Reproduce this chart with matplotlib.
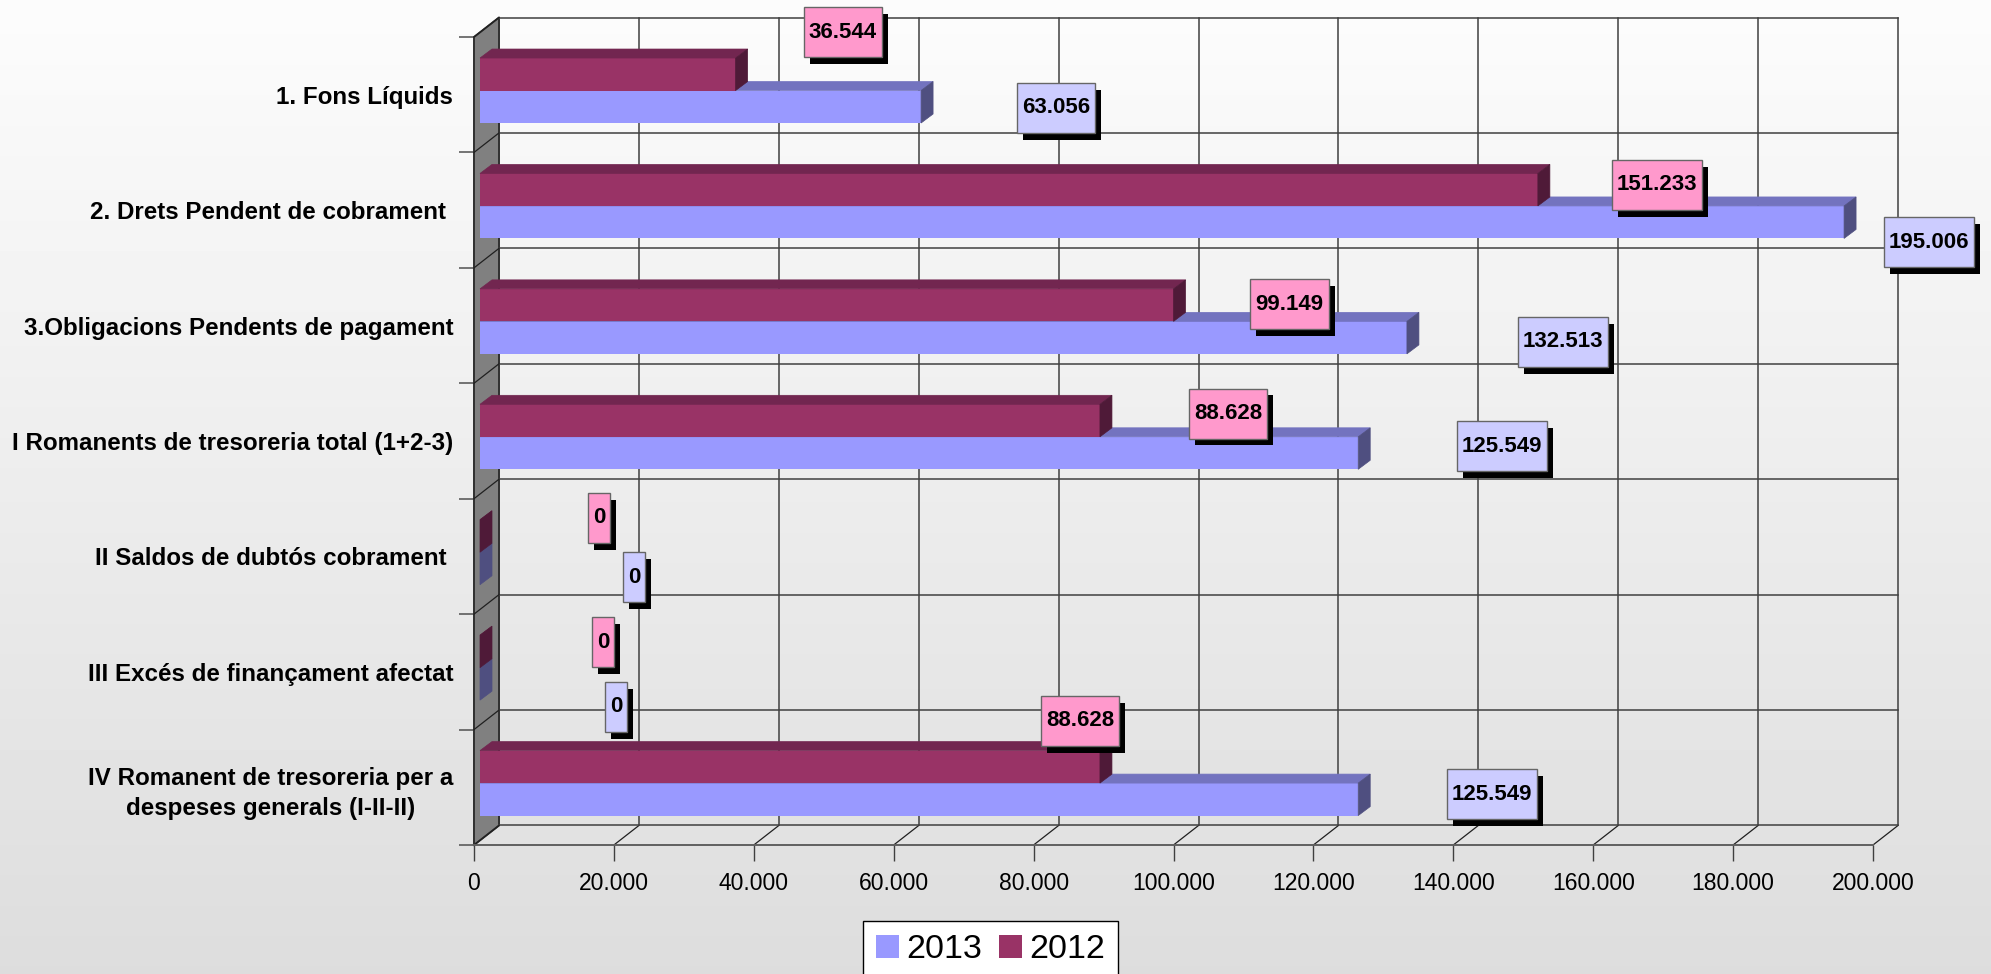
import numpy as np
import matplotlib
matplotlib.use('Agg')
import matplotlib.pyplot as plt
import matplotlib.patheffects as pe
from matplotlib.path import Path
from matplotlib.ticker import FuncFormatter

plt.rcParams['font.family'] = ['Liberation Sans', 'DejaVu Sans']

# Data
categories = ['1. Fons Líquids', '2. Drets Pendent de cobrament ',
              '3.Obligacions Pendents de pagament', 'I Romanents de tresoreria total (1+2-3)',
              'II Saldos de dubtós cobrament ', 'III Excés de finançament afectat',
              'IV Romanent de tresoreria per a\ndespeses generals (I-II-II)']
values_2013 = [63056, 195006, 132513, 125549, 0, 0, 125549]
values_2012 = [36544, 151233, 99149, 88628, 0, 0, 88628]
x_ticks = [0, 20000, 40000, 60000, 80000, 100000, 120000, 140000, 160000, 180000, 200000]

# Label offsets from the bar end, in pixels (labels were moved by hand in the original)
offsets_2013 = [(135, -1), (85, -20), (156, -4), (144, 7), (154, -9), (136, -23), (134, 5)]
offsets_2012 = [(107, 42), (119, 5), (116, 1), (128, 7), (119, 18), (123, 9), (-20, 46)]

# Colours: front, top, side
blue = ('#9999FF', '#7373BF', '#4F4F80')
maroon = ('#993366', '#722650', '#4F1A38')

W, H = 1991, 974
fig = plt.figure(figsize=(W / 100, H / 100), dpi=100)

# Background gradient
bg = fig.add_axes([0, 0, 1, 1], zorder=0)
bg.imshow(np.linspace(252, 221, 256).reshape(-1, 1), cmap='gray', vmin=0, vmax=255,
          aspect='auto', extent=(0, 1, 0, 1))
bg.axis('off')

# Front plane of the 3D box
left, right, top, bottom = 474, 1873, 37, 845
ax = fig.add_axes([left / W, (H - bottom) / H, (right - left) / W, (bottom - top) / H], zorder=1)
ax.patch.set_visible(False)
ax.set_xlim(0, 200000)
ax.set_ylim(len(categories), 0)
for s in ax.spines.values():
    s.set_visible(False)

# Pixels to data units
px_x = 200000 / (right - left)
px_y = len(categories) / (bottom - top)
depth_x = 25 * px_x
depth_y = 19.5 * px_y
n = len(categories)

# Wall
ax.fill([0, depth_x, depth_x, 0], [0, -depth_y, n - depth_y, n], color='#808080', zorder=1, clip_on=False)
ax.plot([0, 0, depth_x, depth_x, 0], [n, 0, -depth_y, n - depth_y, n], color='#303030', lw=1.4, zorder=2, clip_on=False)

# Grid on the back wall and floor
for t in x_ticks[1:]:
    ax.plot([t + depth_x, t + depth_x], [-depth_y, n - depth_y], color='#404040', lw=1.1, zorder=2, clip_on=False)
    ax.plot([t, t + depth_x], [n, n - depth_y], color='#202020', lw=0.9, zorder=2, clip_on=False)
for i in range(n + 1):
    ax.plot([depth_x, 200000 + depth_x], [i - depth_y, i - depth_y], color='#404040', lw=1.1, zorder=2, clip_on=False)
    ax.plot([0, depth_x], [i, i - depth_y], color='#202020', lw=0.9, zorder=2, clip_on=False)
ax.plot([0, 200000], [n, n], color='#606060', lw=1.4, zorder=2, clip_on=False)

# Bars
bar_left = 6 * px_x
bar_h = 32.5 * px_y
bar_dx = 12 * px_x
bar_dy = 9 * px_y
rows = np.arange(n) + 0.5
y_2012 = rows - 4.2 * px_y - bar_h / 2
y_2013 = rows - 4.2 * px_y + bar_h / 2


def draw_series(values, ys, cols, label, z):
    bars = ax.barh(ys, values, height=bar_h, left=bar_left, color=cols[0], label=label, zorder=z, clip_on=False)
    for v, y in zip(values, ys):
        x0, x1 = bar_left, bar_left + v
        y0, y1 = y - bar_h / 2, y + bar_h / 2
        ax.fill([x0, x0 + bar_dx, x1 + bar_dx, x1], [y0, y0 - bar_dy, y0 - bar_dy, y0],
                color=cols[1], lw=0.5, zorder=z, clip_on=False)
        ax.fill([x1, x1 + bar_dx, x1 + bar_dx, x1], [y0, y0 - bar_dy, y1 - bar_dy, y1],
                color=cols[2], lw=0.5, zorder=z, clip_on=False)
    return bars


bars_2013 = draw_series(values_2013, y_2013, blue, '2013', 3)
bars_2012 = draw_series(values_2012, y_2012, maroon, '2012', 4)


# Data label box: fixed height, text width plus padding
def label_box(x0, y0, w, h, mutation_size):
    cy = y0 + h / 2
    xa, xb = x0 - 5, x0 + w + 5
    ya, yb = cy - 25, cy + 25
    return Path([(xa, ya), (xb, ya), (xb, yb), (xa, yb), (xa, ya)], closed=True)


def draw_labels(values, ys, offsets, face):
    for v, y, off in zip(values, ys, offsets):
        txt = ax.annotate(f'{v:,}'.replace(',', '.'), xy=(bar_left + v, y), xytext=off,
                          textcoords='offset pixels', ha='center', va='center',
                          fontsize=16, fontweight='bold', color='black', zorder=6,
                          annotation_clip=False,
                          bbox=dict(boxstyle=label_box, fc=face, ec='#666666', lw=1))
        txt.get_bbox_patch().set_path_effects(
            [pe.withSimplePatchShadow(offset=(4.3, -5), shadow_rgbFace='black', alpha=1)])


draw_labels(values_2013, y_2013, offsets_2013, '#CCCCFF')
draw_labels(values_2012, y_2012, offsets_2012, '#FF99CC')

# Axis ticks and labels
ax.set_xticks(x_ticks)
ax.xaxis.set_major_formatter(FuncFormatter(lambda v, p: f'{int(v):,}'.replace(',', '.')))
ax.tick_params(axis='x', length=11.5, width=1, color='#404040', labelsize=16.5, pad=8)
ax.set_yticks(np.arange(n + 1))
ax.set_yticklabels([])
ax.set_yticks(rows, labels=categories, minor=True)
ax.tick_params(axis='y', which='major', length=11, width=1.1, color='#505050')
ax.tick_params(axis='y', which='minor', length=0, labelsize=17.4, pad=15)
for lab in ax.get_yticklabels(minor=True):
    lab.set_fontweight('bold')
    lab.set_multialignment('center')
    lab.set_linespacing(1.4)

# Legend runs off the bottom of the picture
ax.legend(handles=[bars_2013, bars_2012], loc='upper left', bbox_to_anchor=(863 / W, (H - 921) / H),
          bbox_transform=fig.transFigure, ncol=2, fontsize=24.5, frameon=True, fancybox=False,
          framealpha=1, edgecolor='black', borderaxespad=0, borderpad=0.39, handlelength=0.68,
          handleheight=0.68, handletextpad=0.2, columnspacing=0.5)

fig.savefig('out.png', dpi=100)
